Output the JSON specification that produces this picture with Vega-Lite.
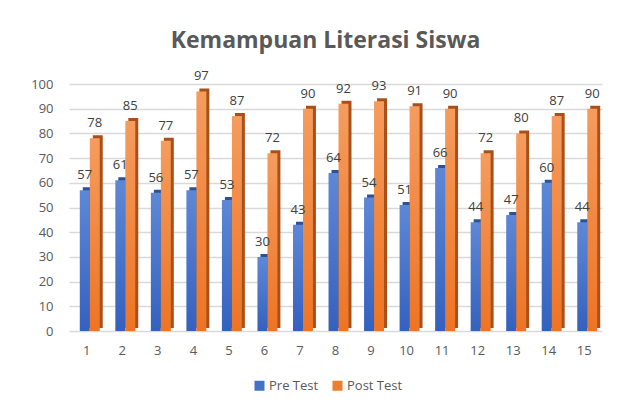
{
  "$schema": "https://vega.github.io/schema/vega-lite/v6.json",
  "width": 533,
  "height": 247,
  "autosize": {"type": "none"},
  "padding": {"left": 69, "top": 84, "right": 28, "bottom": 72},
  "background": "white",
  "title": {
    "text": "Kemampuan Literasi Siswa",
    "fontSize": 23,
    "font": "Open Sans",
    "fontWeight": "bold",
    "color": "#595959",
    "anchor": "middle",
    "dx": -10,
    "offset": 17
  },
  "data": {
    "values": [
      {"siswa": "1", "series": "Pre Test", "nilai": 57},
      {"siswa": "1", "series": "Post Test", "nilai": 78},
      {"siswa": "2", "series": "Pre Test", "nilai": 61},
      {"siswa": "2", "series": "Post Test", "nilai": 85},
      {"siswa": "3", "series": "Pre Test", "nilai": 56},
      {"siswa": "3", "series": "Post Test", "nilai": 77},
      {"siswa": "4", "series": "Pre Test", "nilai": 57},
      {"siswa": "4", "series": "Post Test", "nilai": 97},
      {"siswa": "5", "series": "Pre Test", "nilai": 53},
      {"siswa": "5", "series": "Post Test", "nilai": 87},
      {"siswa": "6", "series": "Pre Test", "nilai": 30},
      {"siswa": "6", "series": "Post Test", "nilai": 72},
      {"siswa": "7", "series": "Pre Test", "nilai": 43},
      {"siswa": "7", "series": "Post Test", "nilai": 90},
      {"siswa": "8", "series": "Pre Test", "nilai": 64},
      {"siswa": "8", "series": "Post Test", "nilai": 92},
      {"siswa": "9", "series": "Pre Test", "nilai": 54},
      {"siswa": "9", "series": "Post Test", "nilai": 93},
      {"siswa": "10", "series": "Pre Test", "nilai": 51},
      {"siswa": "10", "series": "Post Test", "nilai": 91},
      {"siswa": "11", "series": "Pre Test", "nilai": 66},
      {"siswa": "11", "series": "Post Test", "nilai": 90},
      {"siswa": "12", "series": "Pre Test", "nilai": 44},
      {"siswa": "12", "series": "Post Test", "nilai": 72},
      {"siswa": "13", "series": "Pre Test", "nilai": 47},
      {"siswa": "13", "series": "Post Test", "nilai": 80},
      {"siswa": "14", "series": "Pre Test", "nilai": 60},
      {"siswa": "14", "series": "Post Test", "nilai": 87},
      {"siswa": "15", "series": "Pre Test", "nilai": 44},
      {"siswa": "15", "series": "Post Test", "nilai": 90}
    ]
  },
  "encoding": {
    "x": {
      "field": "siswa",
      "type": "ordinal",
      "sort": null,
      "scale": {"paddingInner": 0, "paddingOuter": 0},
      "axis": {
        "title": null,
        "labelAngle": 0,
        "labelFontSize": 13,
        "labelFont": "Open Sans",
        "labelColor": "#595959",
        "labelPadding": 13,
        "domain": false,
        "ticks": false,
        "grid": false
      }
    },
    "y": {
      "field": "nilai",
      "type": "quantitative",
      "scale": {"domain": [0, 100]},
      "axis": {
        "title": null,
        "values": [0, 10, 20, 30, 40, 50, 60, 70, 80, 90, 100],
        "labelOverlap": false,
        "labelFontSize": 13,
        "labelFont": "Open Sans",
        "labelColor": "#595959",
        "labelPadding": 16,
        "domain": false,
        "ticks": false,
        "gridColor": "#d9d9d9",
        "gridWidth": 1.3
      }
    }
  },
  "layer": [
    {
      "transform": [{"filter": "datum.series === 'Pre Test'"}],
      "mark": {"type": "bar", "width": {"band": 0.28}, "xOffset": 1, "yOffset": -3, "color": "#2c5196"}
    },
    {
      "transform": [{"filter": "datum.series === 'Pre Test'"}],
      "mark": {
        "type": "bar",
        "width": {"band": 0.28},
        "xOffset": -2,
        "color": {
          "gradient": "linear", "x1": 0, "y1": 0, "x2": 0, "y2": 1,
          "stops": [{"offset": 0, "color": "#5e88d6"}, {"offset": 1, "color": "#3461bf"}]
        }
      }
    },
    {
      "transform": [{"filter": "datum.series === 'Post Test'"}],
      "mark": {"type": "bar", "width": {"band": 0.28}, "xOffset": 11, "yOffset": -3, "color": "#a9501a"}
    },
    {
      "transform": [{"filter": "datum.series === 'Post Test'"}],
      "mark": {
        "type": "bar",
        "width": {"band": 0.28},
        "xOffset": 8,
        "color": {
          "gradient": "linear", "x1": 0, "y1": 0, "x2": 0, "y2": 1,
          "stops": [{"offset": 0, "color": "#f59c5e"}, {"offset": 1, "color": "#ee7424"}]
        }
      }
    },
    {
      "transform": [{"filter": "datum.series === 'Pre Test'"}],
      "mark": {"type": "text", "baseline": "bottom", "dy": -8, "xOffset": -2, "fontSize": 13, "font": "Open Sans", "color": "#404040"},
      "encoding": {"text": {"field": "nilai", "type": "quantitative"}}
    },
    {
      "transform": [{"filter": "datum.series === 'Post Test'"}],
      "mark": {"type": "text", "baseline": "bottom", "dy": -8, "xOffset": 8, "fontSize": 13, "font": "Open Sans", "color": "#404040"},
      "encoding": {"text": {"field": "nilai", "type": "quantitative"}}
    },
    {
      "mark": {"type": "point", "filled": true, "opacity": 0},
      "encoding": {
        "color": {
          "field": "series",
          "type": "nominal",
          "sort": ["Pre Test", "Post Test"],
          "scale": {"domain": ["Pre Test", "Post Test"], "range": ["#4472C4", "#ED7D31"]},
          "legend": {
            "title": null,
            "orient": "none",
            "legendX": 184,
            "legendY": 295,
            "direction": "horizontal",
            "symbolType": "square",
            "symbolSize": 100,
            "symbolOpacity": 1,
            "labelFontSize": 13,
            "labelFont": "Open Sans",
            "labelColor": "#595959",
            "labelOffset": 3,
            "columnPadding": 12
          }
        }
      }
    }
  ],
  "config": {"view": {"stroke": null}}
}
